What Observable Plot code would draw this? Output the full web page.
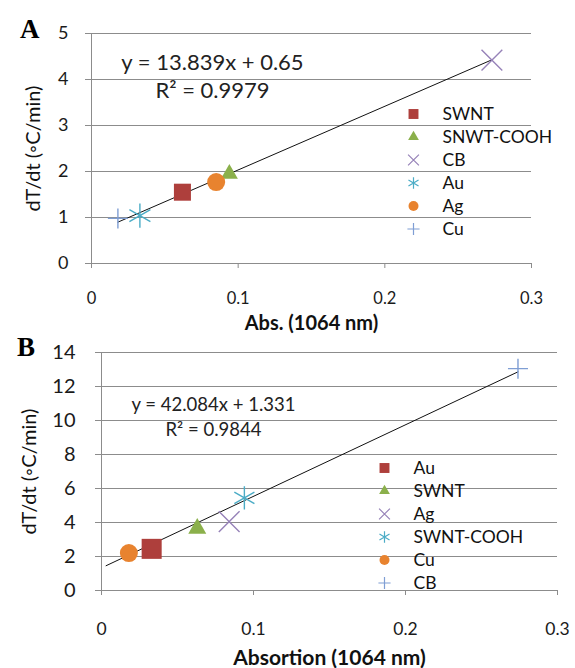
<!DOCTYPE html>
<html><head><meta charset="utf-8">
<script src="https://cdn.jsdelivr.net/npm/d3@7"></script>
<script src="https://cdn.jsdelivr.net/npm/@observablehq/plot@0.6"></script>
<style>
body{margin:0;background:#fff;}
#wrap{position:relative;width:575px;height:668px;overflow:hidden;background:#fff;}
.abs{position:absolute;}
.lbl{position:absolute;font-family:"Liberation Serif",serif;font-weight:bold;font-size:27px;line-height:1;}
</style></head><body><div id="wrap"></div>
<script>
// ---- data ----
const namesA = ["SWNT","SNWT-COOH","CB","Au","Ag","Cu"];
const absA   = [0.062, 0.094, 0.273, 0.033, 0.085, 0.018];
const rateA  = [1.55, 1.95, 4.42, 1.04, 1.77, 0.98];
const namesB = ["Au","SWNT","Ag","SWNT-COOH","Cu","CB"];
const absB   = [0.033, 0.063, 0.084, 0.094, 0.018, 0.274];
const rateB  = [2.45, 3.65, 4.05, 5.45, 2.2, 13.05];
const xTicks  = [0, 0.1, 0.2, 0.3];
const yTicksA = [0, 1, 2, 3, 4, 5];
const yTicksB = [0, 2, 4, 6, 8, 10, 12, 14];
const fitA = {slope: 13.839, intercept: 0.65, from: 0.018, to: 0.273, eq: "y = 13.839x + 0.65", r2: "R² = 0.9979"};
const fitB = {slope: 42.084, intercept: 1.331, from: 0.003, to: 0.274, eq: "y = 42.084x + 1.331", r2: "R² = 0.9844"};

// ---- styles ----
const symbols = ["square","triangle","times","asterisk","circle","plus"];
const colors  = ["#AE3F3C","#8BB04B","#9682B8","#4BACC6","#E8832F","#7F9ED4"];
const filled  = [true, true, false, false, true, false];
const gridC = "#8c8c8c";
const sans = "Lato, 'Open Sans', sans-serif";

function panel(o) {
  const pts = o.names.map((n, i) => ({name: n, x: o.xs[i], y: o.ys[i], i}));
  const trend = [o.fit.from, o.fit.to].map(x => ({x, y: o.fit.slope * x + o.fit.intercept}));
  return Plot.plot({
    width: 575, height: o.height,
    marginTop: o.mt, marginBottom: o.mb, marginLeft: o.ml, marginRight: o.mr,
    x: {domain: [0, 0.3]},
    y: {domain: [0, o.yTicks[o.yTicks.length - 1]]},
    style: {background: "white", overflow: "visible"},
    marks: [
      Plot.gridY(o.yTicks, {stroke: gridC, strokeOpacity: 1, strokeWidth: 1}),
      Plot.ruleX([0], {stroke: gridC, strokeWidth: 1}),
      Plot.axisY(o.yTicks, {tickSize: 6, tickPadding: o.ytp, stroke: gridC, strokeOpacity: 1, label: null,
        fontSize: o.yfs, fontFamily: sans, fill: "#1a1a1a"}),
      Plot.axisX(xTicks, {tickSize: 5, tickPadding: o.xtp, stroke: gridC, strokeOpacity: 1, label: null,
        fontSize: o.xfs, fontFamily: sans, fill: "#1a1a1a", tickFormat: d => d === 0 ? "0" : String(d)}),
      Plot.line(trend, {x: "x", y: "y", stroke: "#111", strokeWidth: 1}),
      ...pts.map(d => Plot.dot([d], {x: "x", y: "y", symbol: symbols[d.i], r: o.r[d.i],
        fill: filled[d.i] ? colors[d.i] : "none",
        stroke: filled[d.i] ? "none" : colors[d.i], strokeWidth: 1.4})),
      Plot.text([o.fit.eq], {frameAnchor: "top-left", dx: o.eqx, dy: o.eqy1, textAnchor: "middle", lineAnchor: "middle",
        fontSize: o.eqfs, fontFamily: sans, fill: "#222"}),
      Plot.text([o.fit.r2], {frameAnchor: "top-left", dx: o.eqx, dy: o.eqy2, textAnchor: "middle", lineAnchor: "middle",
        fontSize: o.eqfs, fontFamily: sans, fill: "#222"}),
      Plot.text([o.ylabel], {frameAnchor: "left", dx: o.ylx, rotate: -90, textAnchor: "middle", lineAnchor: "middle",
        fontSize: o.ylfs, fontFamily: sans, fill: "#111"}),
      Plot.text([o.xlabel], {frameAnchor: "bottom", dy: o.xly, textAnchor: "middle", lineAnchor: "middle",
        fontSize: o.xlfs, fontWeight: "bold", fontFamily: sans, fill: "#111"})
    ]
  });
}

function legend(names, fs) {
  const rows = names.map((n, i) => ({n, i}));
  return Plot.plot({
    width: 170, height: 138, margin: 0,
    y: {type: "band", domain: names, range: [0, 138], padding: 0, axis: null},
    style: {background: "transparent", overflow: "visible"},
    marks: [
      ...rows.map(d => Plot.dot([d], {y: "n", frameAnchor: "left", dx: 10, symbol: symbols[d.i],
        r: [5.6, 4, 5, 5.5, 5, 4][d.i],
        fill: filled[d.i] ? colors[d.i] : "none", stroke: filled[d.i] ? "none" : colors[d.i], strokeWidth: 1.2})),
      Plot.text(rows, {y: "n", text: "n", frameAnchor: "left", dx: 39, textAnchor: "start",
        fontSize: fs, fontFamily: sans, fill: "#111"})
    ]
  });
}

const wrap = document.getElementById("wrap");
function place(node, left, top) { node.classList.add("abs"); node.style.left = left + "px"; node.style.top = top + "px"; wrap.appendChild(node); }

const A = panel({names: namesA, xs: absA, ys: rateA, yTicks: yTicksA, fit: fitA,
  height: 335, mt: 33, mb: 72, ml: 91, mr: 44,
  ytp: 17, yfs: 18, xtp: 24, xfs: 16.5,
  r: [9.6, 6.3, 9.5, 11.5, 9, 6.5],
  eqx: 121, eqy1: 29, eqy2: 57, eqfs: 22,
  ylabel: "dT/dt (◦C/min)", ylx: -58, ylfs: 20, xlabel: "Abs. (1064 nm)", xly: 60, xlfs: 20});
place(A, 0, 0);

const B = panel({names: namesB, xs: absB, ys: rateB, yTicks: yTicksB, fit: fitB,
  height: 333, mt: 17, mb: 78, ml: 101, mr: 18,
  ytp: 20, yfs: 20, xtp: 27, xfs: 17.5,
  r: [11.3, 6.7, 9.5, 11, 9, 6.5],
  eqx: 112, eqy1: 53, eqy2: 78, eqfs: 18.5,
  ylabel: "dT/dt (◦C/min)", ylx: -72, ylfs: 20, xlabel: "Absortion (1064 nm)", xly: 68, xlfs: 21});
place(B, 0, 335);

place(legend(namesA, 17.5), 403, 101.5);
place(legend(namesB, 17.5), 374, 455.5);

const la = document.createElement("div"); la.className = "lbl"; la.textContent = "A"; la.style.left = "20px"; la.style.top = "16px"; wrap.appendChild(la);
const lb = document.createElement("div"); lb.className = "lbl"; lb.textContent = "B"; lb.style.left = "17px"; lb.style.top = "334px"; wrap.appendChild(lb);
</script></body></html>
